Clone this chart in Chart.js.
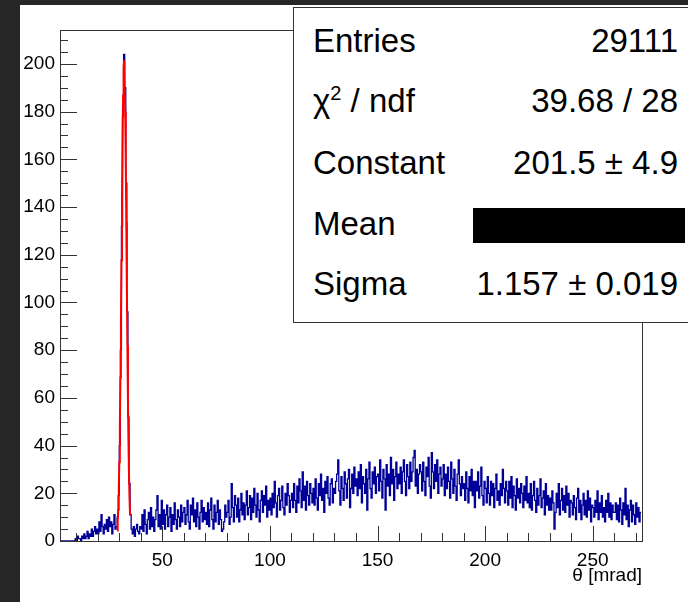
<!DOCTYPE html>
<html>
<head>
<meta charset="utf-8">
<title>theta [mrad]</title>
<script src="https://cdn.jsdelivr.net/npm/chart.js@4.4.0/dist/chart.umd.min.js"></script>
<style>
  html, body { margin: 0; padding: 0; }
  body {
    width: 688px; height: 602px; overflow: hidden; position: relative;
    background: #262626;
    font-family: 'Liberation Sans', Arial, sans-serif;
  }
  #pad { position: absolute; left: 20px; top: 5px; right: 0; bottom: 0; background: #fff; }
  #plot { position: absolute; left: 0; top: 0; }
  #stats {
    position: absolute; left: 293px; top: 7px; width: 420px; height: 314px;
    border: 1px solid #333; background: #fff; color: #000; font-size: 33px;
  }
  #stats .row { position: absolute; left: 0; right: 0; height: 33px; line-height: 33px; white-space: nowrap; }
  #stats .lab { position: absolute; left: 19px; }
  #stats .val { position: absolute; right: 36px; }
  #stats sup { font-size: 20px; line-height: 0; vertical-align: 0; position: relative; top: -12px; }
  #stats .hidden { position: absolute; left: 179px; top: 200px; width: 212px; height: 35px; background: #000; }
</style>
</head>
<body>
<div id="pad"></div>
<canvas id="plot" width="688" height="602"></canvas>
<div id="stats"></div>

<script>
// histogram: theta in mrad, 0.5 mrad bins starting at 9.5
const xMin = 2.44;
const xMax = 272.9;
const yMax = 214.2;
const binLow = 9.5;
const binWidth = 0.5;

const counts = [
  1,0,2,1,1,0,2,1,3,1, 2,4,1,3,2,5,2,4,6,3,
  5,3,8,4,11,6,3,7,5,9, 4,10,6,8,3,7,11,5,
  6,10,19,40,80,132,178,204,190,150,96,52,24,11,5,
  3,6,2,5,7,4,3,6,
  5,11,4,13,7,3,9,12,5,14, 6,10,4,9,13,19,6,11,5,17,
  7,13,5,11,15,6,10,14,4,11, 7,16,9,5,13,10,6,15,8,12,
  14,7,11,17,8,5,15,11,18,8, 13,6,16,10,5,12,17,8,14,9,
  12,7,16,6,13,18,9,5,15,8, 12,17,7,13,9,4,5,8,15,10,
  12,17,7,10,24,14,8,19,15,10, 18,8,13,20,11,16,9,15,21,11,
  14,19,9,18,12,22,15,10,20,13, 8,17,21,12,19,15,23,10,17,13,
  18,11,20,14,25,16,10,19,22,13, 17,23,14,11,20,15,24,19,12,17,
  20,14,24,17,12,23,16,26,21,14, 29,17,23,13,25,19,15,24,20,16,
  22,15,26,18,13,24,19,28,17,22, 12,25,20,27,18,15,24,26,16,22,
  20,25,28,34,21,15,27,22,17,29, 24,18,26,30,14,22,28,20,31,23,
  26,19,29,22,32,16,27,24,20,30, 13,26,33,22,18,29,24,31,20,27,
  28,21,34,25,18,30,26,13,32,23, 28,19,35,24,30,17,27,33,22,28,
  24,31,20,29,34,25,19,32,27,22, 33,25,29,35,38,23,30,20,28,32,
  29,21,33,25,19,31,27,35,23,18, 37,29,22,32,25,34,20,28,31,23,
  26,32,19,28,22,31,25,18,33,26, 20,30,23,17,28,34,24,19,27,22,
  24,17,29,22,16,27,21,30,19,25, 14,25,21,29,18,23,31,19,15,25,
  22,16,27,20,15,25,19,24,14,22, 28,17,21,15,24,19,30,22,16,25,
  21,15,25,18,27,14,23,19,13,26, 18,22,16,24,20,14,23,17,27,16,
  20,14,24,13,19,25,17,12,22,15, 19,26,14,18,21,11,24,15,19,13,
  18,13,21,16,5,12,20,14,24,11, 17,22,13,19,12,23,15,20,10,17,
  16,11,19,14,9,18,22,12,17,9, 15,20,11,17,10,21,13,18,8,15,
  14,10,17,12,21,9,16,12,19,10, 14,8,17,12,20,10,16,9,15,12,
  12,16,9,15,8,18,13,7,16,11, 22,9,15,6,13,17,8,15,11,7, 16,10,14,8,12
];

// gaussian fit curve
const fitX = [29, 29.25, 29.5, 29.75, 30, 30.25, 30.5, 30.75, 31, 31.25, 31.5, 31.75, 32,
  32.2, 32.25, 32.5, 32.75, 33, 33.25, 33.5, 33.75, 34, 34.25, 34.5, 34.75, 35];
const fitY = [4.4, 7.8, 13.2, 21.4, 33.0, 48.7, 68.5, 91.9, 117.7, 143.8, 167.8, 186.8, 198.5,
  201.5, 201.3, 194.8, 180.0, 158.7, 133.5, 107.2, 82.1, 60.1, 41.9, 27.9, 17.8, 10.8];

const statLabels = ['Entries', 'χ<sup>2</sup> / ndf', 'Constant', 'Mean', 'Sigma'];
const statValues = ['29111', '39.68 / 28', '201.5 ± 4.9', null, '1.157 ± 0.019'];
const statTops = [16, 76, 138, 199, 259];

const fontFamily = "'Liberation Sans', Arial, sans-serif";

function buildStats() {
  const box = document.getElementById('stats');
  statLabels.forEach((lab, i) => {
    const row = document.createElement('div');
    row.className = 'row';
    row.style.top = statTops[i] + 'px';
    row.innerHTML = `<span class="lab">${lab}</span>` +
      (statValues[i] ? `<span class="val">${statValues[i]}</span>` : '');
    box.appendChild(row);
  });
  const hidden = document.createElement('div');
  hidden.className = 'hidden';
  box.appendChild(hidden);
}

// ROOT style frame with ticks drawn inward
const rootAxes = {
  id: 'rootAxes',
  afterDatasetsDraw(chart) {
    const { ctx, chartArea: a, scales: { x, y } } = chart;
    ctx.save();
    ctx.strokeStyle = '#333';
    ctx.lineWidth = 1;
    ctx.beginPath();
    for (let v = 0; v <= y.max; v += 5) {
      const py = Math.round(y.getPixelForValue(v)) + 0.5;
      const len = v % 20 === 0 ? 17 : 8;
      ctx.moveTo(a.left, py);
      ctx.lineTo(a.left + len, py);
    }
    for (let v = Math.ceil(x.min / 10) * 10; v <= x.max; v += 10) {
      const px = Math.round(x.getPixelForValue(v)) + 0.5;
      const len = v % 50 === 0 ? 15 : 8;
      ctx.moveTo(px, a.bottom);
      ctx.lineTo(px, a.bottom - len);
    }
    ctx.stroke();
    ctx.strokeRect(a.left + 0.5, a.top + 0.5, a.right - a.left, a.bottom - a.top);
    ctx.restore();
  }
};

document.addEventListener('DOMContentLoaded', () => {
  buildStats();

  const histPoints = [{ x: xMin, y: 0 }];
  counts.forEach((c, i) => histPoints.push({ x: binLow + i * binWidth, y: c }));
  histPoints.push({ x: binLow + counts.length * binWidth, y: counts[counts.length - 1] });

  new Chart(document.getElementById('plot'), {
    type: 'line',
    data: {
      datasets: [
        {
          label: 'gaus',
          data: fitX.map((x, i) => ({ x, y: fitY[i] })),
          borderColor: '#ff0000',
          borderWidth: 2,
          pointRadius: 0,
          tension: 0
        },
        {
          label: 'theta',
          data: histPoints,
          borderColor: '#000099',
          borderWidth: 1.3,
          pointRadius: 0,
          stepped: 'before'
        }
      ]
    },
    options: {
      responsive: false,
      animation: false,
      events: [],
      layout: { padding: { left: 20, top: 30, right: 46, bottom: 0 } },
      plugins: { legend: { display: false }, tooltip: { enabled: false } },
      scales: {
        x: {
          type: 'linear',
          min: xMin,
          max: xMax,
          afterFit: s => { s.height = 61; },
          grid: { display: false, drawTicks: false },
          border: { display: false },
          ticks: {
            stepSize: 50, includeBounds: false, padding: 8, maxRotation: 0,
            color: '#000', font: { family: fontFamily, size: 19 }
          },
          title: {
            display: true, text: 'θ [mrad]', align: 'end', color: '#000',
            font: { family: fontFamily, size: 19 }, padding: { top: 0, bottom: 15 }
          }
        },
        y: {
          type: 'linear',
          min: 0,
          max: yMax,
          afterFit: s => { s.width = 40; },
          grid: { display: false, drawTicks: false },
          border: { display: false },
          ticks: {
            stepSize: 20, includeBounds: false, padding: 5,
            color: '#000', font: { family: fontFamily, size: 19 }
          }
        }
      }
    },
    plugins: [rootAxes]
  });
});
</script>
</body>
</html>
